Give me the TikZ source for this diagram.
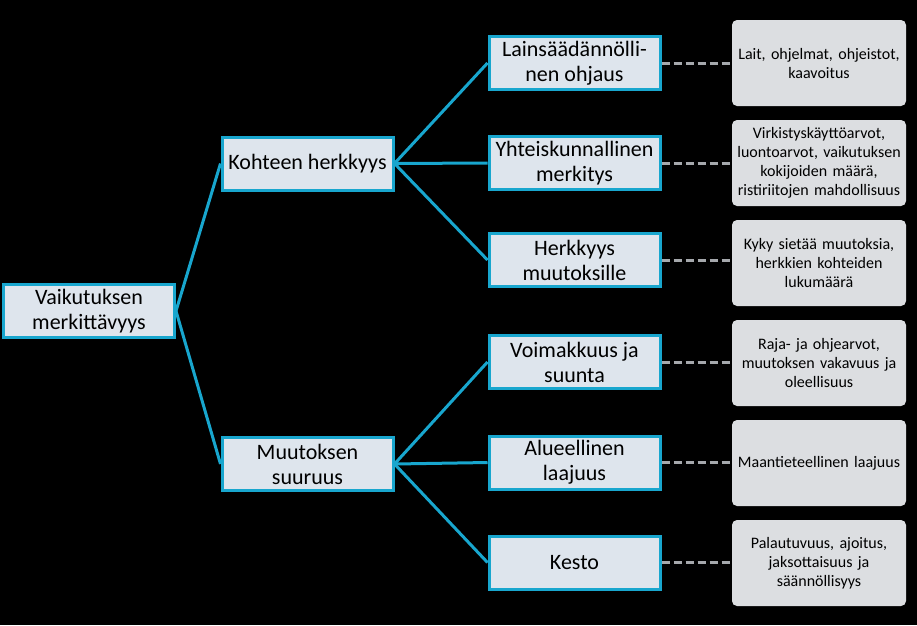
\documentclass[tikz,border=0pt]{standalone}
\usepackage{fontspec}
\setmainfont{Carlito}
\definecolor{cy}{RGB}{24,166,206}
\definecolor{bf}{RGB}{222,229,237}
\definecolor{lf}{RGB}{220,222,225}
\definecolor{dg}{RGB}{165,168,172}
\begin{document}
\begin{tikzpicture}[x=1pt,y=-1pt,
  box/.style={draw=cy, line width=3pt, fill=bf, minimum width=171pt, minimum height=53pt, align=center, font=\fontsize{22}{25}\selectfont, inner sep=1pt},
  leaf/.style={fill=lf, rounded corners=5pt, minimum width=174pt, minimum height=86pt, align=center, font=\fontsize{16}{19}\selectfont, text width=174pt, inner sep=0pt},
  link/.style={draw=cy, line width=3pt},
  dl/.style={draw=dg, line width=3pt, dash pattern=on 8pt off 4pt}]
\fill[black] (0,0) rectangle (917,625);
\useasboundingbox (0,0) rectangle (917,625);
\node[box] (r) at (89,311) {Vaikutuksen\\merkittävyys};
\node[box] (k) at (307.5,163.5) {Kohteen herkkyys};
\node[box] (m) at (307.5,464) {Muutoksen\\suuruus};
\node[box] (a1) at (574.5,63) {Lainsäädännölli-\\nen ohjaus};
\node[box] (a2) at (574.5,163) {Yhteiskunnallinen\\merkitys};
\node[box] (a3) at (574.5,260) {Herkkyys\\muutoksille};
\node[box] (b1) at (574.5,362) {Voimakkuus ja\\suunta};
\node[box] (b2) at (574.5,462.5) {Alueellinen\\laajuus};
\node[box] (b3) at (574.5,562.5) {Kesto};
\node[leaf] (l1) at (819,63) {Lait, ohjelmat, ohjeistot,\\kaavoitus};
\node[leaf] (l2) at (819,163) {Virkistyskäyttöarvot,\\luontoarvot, vaikutuksen\\kokijoiden määrä,\\ristiriitojen mahdollisuus};
\node[leaf] (l3) at (819,263) {Kyky sietää muutoksia,\\herkkien kohteiden\\lukumäärä};
\node[leaf] (l4) at (819,363) {Raja- ja ohjearvot,\\muutoksen vakavuus ja\\oleellisuus};
\node[leaf] (l5) at (819,463) {Maantieteellinen laajuus};
\node[leaf] (l6) at (819,563) {Palautuvuus, ajoitus,\\jaksottaisuus ja\\säännöllisyys};
\foreach \p/\c in {r/k,r/m,k/a1,k/a2,k/a3,m/b1,m/b2,m/b3}
  \draw[link] (\p.east) -- (\c.west);
\draw[dl] (a1.east) -- (l1.west);
\draw[dl] (a2.east) -- (l2.west);
\draw[dl] (a3.east) -- (l3.west|-a3.east);
\draw[dl] (b1.east) -- (l4.west|-b1.east);
\draw[dl] (b2.east) -- (l5.west|-b2.east);
\draw[dl] (b3.east) -- (l6.west|-b3.east);
\end{tikzpicture}
\end{document}
